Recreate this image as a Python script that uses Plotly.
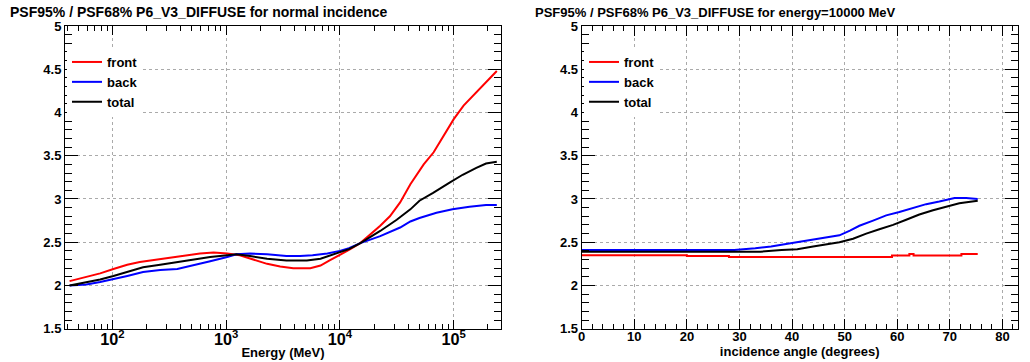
import plotly.graph_objects as go

# ---------------- data: left panel (normal incidence) ----------------
energy_front = [42, 59, 78, 102, 135, 174, 245, 347, 447, 589, 776, 1023, 1318, 1738,
                2291, 2985, 3890, 5495, 6761, 8128, 10000, 12023, 15136, 18621, 22646,
                27542, 33884, 41687, 54600, 66800, 81300, 100000, 122400, 140000,
                160000, 183200, 239900]
ratio_front = [2.05, 2.10, 2.14, 2.19, 2.24, 2.27, 2.30, 2.33, 2.35, 2.37, 2.38, 2.37,
               2.35, 2.30, 2.25, 2.22, 2.20, 2.20, 2.23, 2.29, 2.35, 2.41, 2.49, 2.59,
               2.69, 2.80, 2.96, 3.17, 3.40, 3.54, 3.73, 3.92, 4.08, 4.16, 4.25, 4.32,
               4.48]

energy_back = [42, 59, 78, 102, 135, 186, 263, 372, 513, 724, 1023, 1230, 1622, 2291,
               3388, 4467, 5754, 7762, 10000, 12023, 15136, 22646, 33884, 41687, 50119,
               70795, 97724, 138038, 192752, 239900]
ratio_back = [2.00, 2.01, 2.04, 2.07, 2.11, 2.155, 2.18, 2.19, 2.23, 2.28, 2.33, 2.36,
              2.37, 2.36, 2.34, 2.34, 2.35, 2.37, 2.40, 2.43, 2.49, 2.57, 2.67, 2.74,
              2.78, 2.84, 2.88, 2.91, 2.93, 2.93]

energy_total = [42, 59, 78, 102, 135, 186, 263, 372, 513, 724, 1023, 1230, 1622, 2291,
                3388, 5129, 6761, 8710, 12023, 15136, 22646, 31623, 41687, 50119,
                66069, 92257, 120226, 158489, 192752, 239900]
ratio_total = [2.00, 2.035, 2.07, 2.11, 2.16, 2.21, 2.24, 2.27, 2.30, 2.33, 2.35, 2.36,
               2.34, 2.31, 2.29, 2.29, 2.31, 2.36, 2.42, 2.49, 2.63, 2.76, 2.88, 2.98,
               3.07, 3.19, 3.28, 3.36, 3.41, 3.43]

# ---------------- data: right panel (energy = 10000 MeV) ----------------
angle_front = [0, 20, 28, 59, 62.3, 63.1, 72.2, 75.3]
ratio_front_angle = [2.35, 2.34, 2.33, 2.345, 2.365, 2.345, 2.365, 2.365]

angle_back = [0, 29, 33, 36, 40, 44, 49, 51, 52.8, 55.4, 57.9, 60.4, 63, 65.5, 68,
              70.9, 73.1, 75.3]
ratio_back_angle = [2.41, 2.41, 2.43, 2.45, 2.49, 2.53, 2.58, 2.635, 2.69, 2.75, 2.81,
                    2.85, 2.90, 2.94, 2.97, 3.01, 3.01, 3.00]

angle_total = [0, 34, 38, 41, 44, 49, 51.6, 54.1, 56.6, 59.2, 61.7, 64.2, 66.8, 69.3,
               71.8, 75.3]
ratio_total_angle = [2.39, 2.39, 2.41, 2.42, 2.45, 2.50, 2.54, 2.60, 2.65, 2.70, 2.76,
                     2.82, 2.87, 2.91, 2.95, 2.98]

series_names = ["front", "back", "total"]
series_colors = ["#ff0000", "#0000ff", "#000000"]

left_title = "PSF95% / PSF68% P6_V3_DIFFUSE for normal incidence"
right_title = "PSF95% / PSF68% P6_V3_DIFFUSE for energy=10000 MeV"
left_xlabel = "Energy (MeV)"
right_xlabel = "incidence angle (degrees)"

# ---------------- figure ----------------
W, H = 1030, 362
FONT = "Liberation Sans, Arial, sans-serif"

fig = go.Figure()

left_data = [(energy_front, ratio_front), (energy_back, ratio_back), (energy_total, ratio_total)]
for (xs, ys), name, col in zip(left_data, series_names, series_colors):
    fig.add_trace(go.Scatter(x=xs, y=ys, mode="lines", name=name,
                             line=dict(color=col, width=2),
                             xaxis="x", yaxis="y", legend="legend"))

right_data = [(angle_front, ratio_front_angle, "hv"),
              (angle_back, ratio_back_angle, "linear"),
              (angle_total, ratio_total_angle, "linear")]
for (xs, ys, shp), name, col in zip(right_data, series_names, series_colors):
    fig.add_trace(go.Scatter(x=xs, y=ys, mode="lines", name=name,
                             line=dict(color=col, width=2, shape=shp),
                             xaxis="x2", yaxis="y2", legend="legend2"))

tickfont = dict(family=FONT, size=13, color="black", weight="bold")
common = dict(showline=True, linecolor="black", linewidth=1, mirror="allticks",
              ticks="inside", tickcolor="black", tickwidth=1, zeroline=False,
              showgrid=True, gridcolor="#aaaaaa", griddash="dot", gridwidth=1,
              tickfont=tickfont, automargin=False)

ydom = [1 - 328.7 / H, 1 - 26 / H]
xdom1 = [65 / W, 501 / W]
xdom2 = [581.7 / W, 1017.7 / W]

yaxis_cfg = dict(range=[1.5, 5], dtick=0.5, tick0=1.5, ticklen=13,
                 minor=dict(ticks="inside", ticklen=7, dtick=0.1, tickcolor="black",
                            showgrid=False),
                 domain=ydom, **common)

legend_font = dict(family=FONT, size=13, color="black", weight="bold")

fig.update_layout(
    width=W, height=H,
    margin=dict(l=0, r=0, t=0, b=0),
    paper_bgcolor="white", plot_bgcolor="white",
    showlegend=True,
    xaxis=dict(type="log", range=[1.583, 5.417], domain=xdom1, anchor="y",
               dtick=1, exponentformat="power", ticklen=9, ticklabelstandoff=-4,
               minor=dict(ticks="inside", ticklen=5, dtick="D1", tickcolor="black",
                          showgrid=False),
               title=dict(text=left_xlabel, font=tickfont, standoff=1),
               **common),
    yaxis=dict(anchor="x", **yaxis_cfg),
    xaxis2=dict(range=[0, 82.9], domain=xdom2, anchor="y2", dtick=10, ticklen=10,
                ticklabelstandoff=-4,
                minor=dict(ticks="inside", ticklen=5, dtick=2, tickcolor="black",
                           showgrid=False),
                title=dict(text=right_xlabel, font=tickfont, standoff=1),
                **common),
    yaxis2=dict(anchor="x2", **yaxis_cfg),
    legend=dict(x=67 / W, y=1 - 47 / H, xanchor="left", yanchor="top",
                bgcolor="white", borderwidth=0, itemwidth=30,
                font=legend_font, tracegroupgap=0),
    legend2=dict(x=584 / W, y=1 - 47 / H, xanchor="left", yanchor="top",
                 bgcolor="white", borderwidth=0, itemwidth=30,
                 font=legend_font, tracegroupgap=0),
    annotations=[
        dict(text=left_title, x=8 / W, y=1 - 12 / H, xref="paper", yref="paper",
             xanchor="left", yanchor="middle", showarrow=False,
             font=dict(family=FONT, size=14, color="black", weight="bold")),
        dict(text=right_title, x=533 / W, y=1 - 12 / H, xref="paper", yref="paper",
             xanchor="left", yanchor="middle", showarrow=False,
             font=dict(family=FONT, size=13, color="black", weight="bold")),
    ],
)

fig.write_html("out.html",
               config={"displayModeBar": False},
               post_script="document.body.style.margin='0';"
                           "document.body.style.overflow='hidden';")
